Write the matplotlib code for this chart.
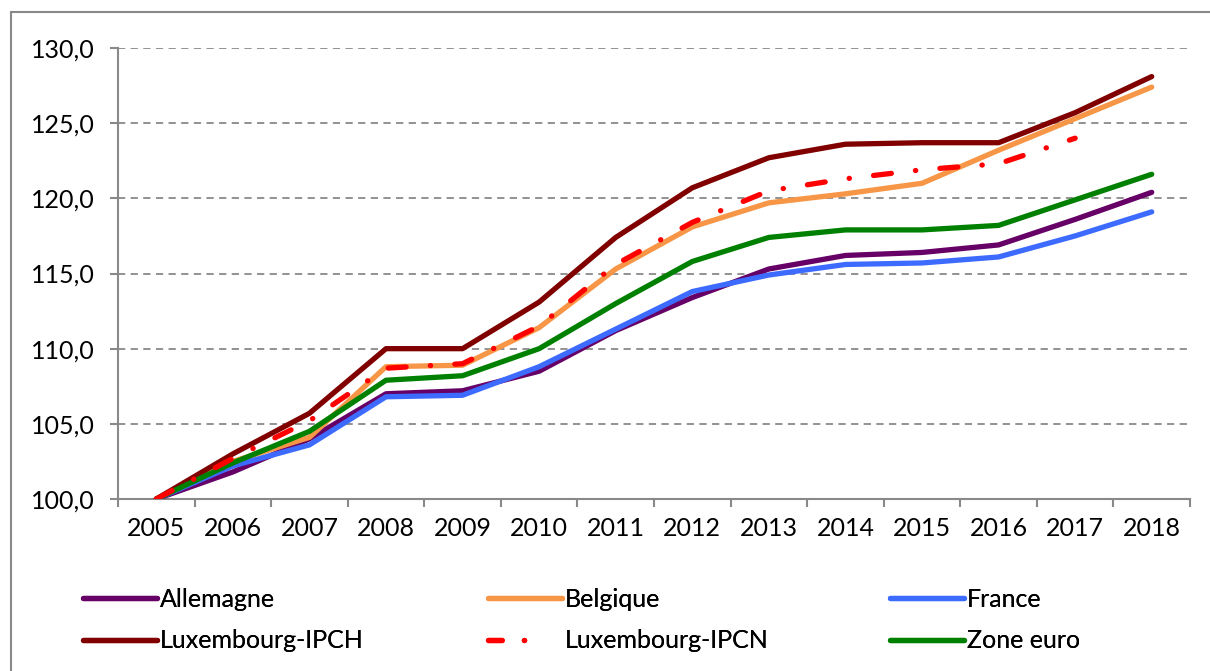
import matplotlib
matplotlib.use("Agg")
import matplotlib.pyplot as plt
from matplotlib.ticker import FuncFormatter, FixedLocator
from matplotlib.patches import Rectangle
from matplotlib.lines import Line2D

plt.rcParams['font.family'] = ['Lato', 'DejaVu Sans']

years = ["2005", "2006", "2007", "2008", "2009", "2010", "2011",
         "2012", "2013", "2014", "2015", "2016", "2017", "2018"]

allemagne = [100.0, 101.8, 104.0, 107.0, 107.2, 108.5, 111.2, 113.4, 115.3, 116.2, 116.4, 116.9, 118.6, 120.4]
belgique = [100.0, 102.5, 104.1, 108.8, 108.9, 111.4, 115.3, 118.1, 119.7, 120.3, 121.0, 123.2, 125.3, 127.4]
france = [100.0, 102.2, 103.6, 106.8, 106.9, 108.8, 111.3, 113.8, 114.9, 115.6, 115.7, 116.1, 117.5, 119.1]
lux_ipch = [100.0, 103.0, 105.7, 110.0, 110.0, 113.1, 117.4, 120.7, 122.7, 123.6, 123.7, 123.7, 125.7, 128.1]
lux_ipcn = [100.0, 102.7, 105.2, 108.7, 109.0, 111.5, 115.6, 118.4, 120.5, 121.3, 121.9, 122.3, 124.0]
zone_euro = [100.0, 102.4, 104.5, 107.9, 108.2, 110.0, 113.0, 115.8, 117.4, 117.9, 117.9, 118.2, 119.9, 121.6]

W, H = 1210, 671
fig = plt.figure(figsize=(W / 100, H / 100), dpi=100)
ax = fig.add_axes([118 / W, 1 - 499 / H, (1190 - 118) / W, (499 - 48) / H])

gray = '#898989'
x = list(range(len(years)))
lw = 3.8
fs = 18

c_all, c_bel, c_fra, c_ipch, c_ipcn, c_ze = '#660066', '#F79646', '#3D6BFF', '#800000', '#FF0000', '#008000'

ax.plot(x, allemagne, color=c_all, lw=lw, solid_capstyle='round', zorder=3)
ax.plot(x, belgique, color=c_bel, lw=lw, solid_capstyle='round', zorder=3)
ax.plot(x, france, color=c_fra, lw=lw, solid_capstyle='round', zorder=3)
ax.plot(x, lux_ipch, color=c_ipch, lw=lw, solid_capstyle='round', zorder=4)
ax.plot(x[:len(lux_ipcn)], lux_ipcn, color=c_ipcn, lw=lw, dash_capstyle='round',
        linestyle=(0, (3.4, 4.6, 0.05, 4.6)), zorder=6)
ax.plot(x, zone_euro, color=c_ze, lw=lw, solid_capstyle='round', zorder=5)

ax.set_xlim(-0.5, len(years) - 0.5)
ax.set_ylim(100, 130)
ax.set_yticks([100, 105, 110, 115, 120, 125, 130])
ax.yaxis.set_major_formatter(FuncFormatter(lambda v, p: f"{v:.1f}".replace('.', ',')))
ax.set_xticks(x)
ax.set_xticklabels(years)
ax.xaxis.set_minor_locator(FixedLocator([i - 0.5 for i in range(len(years) + 1)]))
ax.tick_params(axis='x', which='major', length=0, pad=13, labelsize=fs, colors='black')
ax.tick_params(axis='x', which='minor', length=6, width=1.5, color=gray)
ax.tick_params(axis='y', which='major', length=6, width=1.5, color=gray, pad=11, labelsize=fs)

ax.grid(axis='y', color=gray, linestyle=(0, (4, 3)), lw=1.3)
ax.set_axisbelow(True)
for s in ['top', 'right']:
    ax.spines[s].set_visible(False)
for s in ['left', 'bottom']:
    ax.spines[s].set_color(gray)
    ax.spines[s].set_linewidth(1.5)

# outer chart border (extends past the right and bottom edges)
fig.add_artist(Rectangle((11 / W, -0.1), 1.2, 1 - 12 / H + 0.1, transform=fig.transFigure,
                         fill=False, edgecolor=gray, lw=1.5))

def handle(color, ls='-'):
    return Line2D([], [], color=color, lw=lw, linestyle=ls,
                  solid_capstyle='round', dash_capstyle='round')

columns = [
    (83, [(handle(c_all), 'Allemagne'), (handle(c_ipch), 'Luxembourg-IPCH')]),
    (488, [(handle(c_bel), 'Belgique'), (handle(c_ipcn, (0, (2.6, 4.2, 0.05, 20))), 'Luxembourg-IPCN')]),
    (890, [(handle(c_fra), 'France'), (handle(c_ze), 'Zone euro')]),
]
for xpix, entries in columns:
    leg = fig.legend([e[0] for e in entries], [e[1] for e in entries],
                     loc='upper left', bbox_to_anchor=(xpix / W, 1 - 588 / H), ncol=1,
                     frameon=False, fontsize=fs, handlelength=2.95, handletextpad=0.12,
                     labelspacing=0.74, borderpad=0, borderaxespad=0)
    fig.add_artist(leg)

fig.savefig('out.png', dpi=100)
